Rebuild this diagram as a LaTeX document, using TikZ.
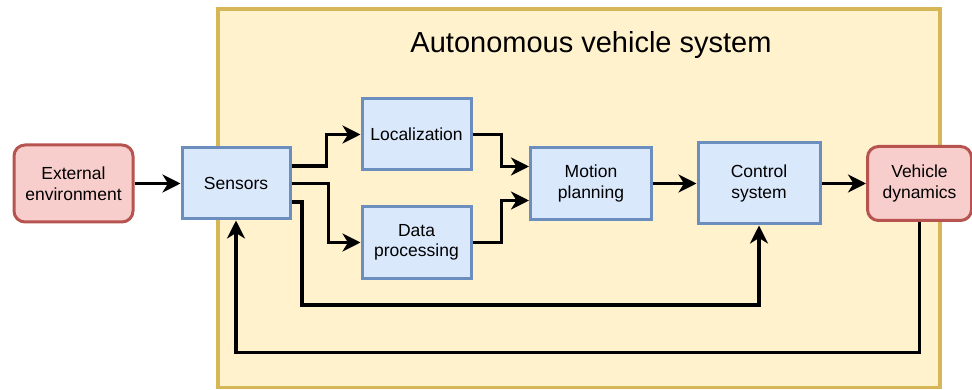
\documentclass[tikz,border=0pt]{standalone}
\usepackage{fontspec}
\setmainfont{Liberation Sans}
\usetikzlibrary{arrows.meta,calc}

\definecolor{sysfill}{HTML}{FFF2CC}
\definecolor{sysline}{HTML}{D6B656}
\definecolor{blkfill}{HTML}{DAE8FC}
\definecolor{blkline}{HTML}{6C8EBF}
\definecolor{extfill}{HTML}{F8CECC}
\definecolor{extline}{HTML}{B85450}

\tikzset{
  blockbox/.style={draw=blkline, fill=blkfill, line width=3pt, align=center,
    font=\fontsize{17.5}{20.5}\selectfont, inner sep=0pt},
  outerbox/.style={draw=extline, fill=extfill, line width=3pt, rounded corners=11pt,
    align=center, font=\fontsize{17.5}{20.5}\selectfont, inner sep=0pt},
  conn/.style={draw=black, line width=3.8pt,
    -{Stealth[length=18pt, width=18pt, inset=5.5pt]}},
}

\begin{document}
\begin{tikzpicture}[x=1pt, y=-1pt]
  \useasboundingbox (0,0) rectangle (972,390);

  % enclosing system frame
  \draw[draw=sysline, fill=sysfill, line width=3.2pt] (218,9) rectangle (940,387.5);
  \node[font=\fontsize{29}{32}\selectfont] (title) at (591,45.5) {Autonomous vehicle system};

  % blocks
  \node[outerbox, minimum width=119pt, minimum height=77pt] (ext) at (73.5,183.5) {External\\environment};
  \node[blockbox, minimum width=108pt, minimum height=71pt] (sens) at (236,183.5) {Sensors};
  \node[blockbox, minimum width=109pt, minimum height=71pt] (loc) at (416.5,134.5) {Localization};
  \node[blockbox, minimum width=109pt, minimum height=71pt] (dp) at (416.5,242.5) {Data\\processing};
  \node[blockbox, minimum width=121pt, minimum height=72pt] (mp) at (591,183.5) {Motion\\planning};
  \node[blockbox, minimum width=122pt, minimum height=81pt] (cs) at (759,183.5) {Control\\system};
  \node[outerbox, minimum width=104pt, minimum height=74pt] (vd) at (919.5,183.5) {Vehicle\\dynamics};

  % routing points of the long loops
  \coordinate (ctrlbus) at (302,305);
  \coordinate (fb) at (236,352.5);

  % connectors
  \draw[conn] (ext) -- (sens);
  \draw[conn] ([yshift=17.5pt]sens.east) -- ++(35,0) |- (loc.west);
  \draw[conn] (sens.east) -- ++(37,0) |- (dp.west);
  \draw[conn] ([yshift=-18.5pt]sens.east) -| (ctrlbus) -| (cs.south);
  \draw[conn] (loc.east) -- ++(29,0) |- ([yshift=17pt]mp.west);
  \draw[conn] (dp.east) -- ++(29,0) |- ([yshift=-17pt]mp.west);
  \draw[conn] (mp) -- (cs);
  \draw[conn] (cs) -- (vd);
  \draw[conn] (vd.south) |- (fb) -- (sens.south);
\end{tikzpicture}
\end{document}
